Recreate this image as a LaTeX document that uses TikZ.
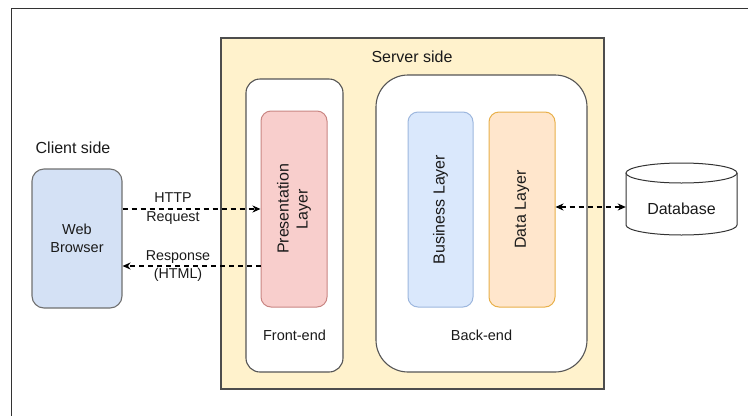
\documentclass[tikz,border=0pt]{standalone}
\usepackage{fontspec}
\setmainfont{Liberation Sans}
\usetikzlibrary{arrows.meta}
\definecolor{txt}{HTML}{1A1A1A}
\definecolor{frame}{HTML}{333333}
\definecolor{srvfill}{HTML}{FFF2CC}
\definecolor{srvdraw}{HTML}{4D4D4D}
\definecolor{contdraw}{HTML}{555555}
\definecolor{redfill}{HTML}{F8CECC}
\definecolor{reddraw}{HTML}{C98683}
\definecolor{bluefill}{HTML}{DAE8FC}
\definecolor{bluedraw}{HTML}{9DB7DE}
\definecolor{orgfill}{HTML}{FFE6CC}
\definecolor{orgdraw}{HTML}{E8B04A}
\definecolor{brwfill}{HTML}{D4E1F5}
\definecolor{brwdraw}{HTML}{707070}
\tikzset{
  bigfont/.style={font=\fontsize{16}{19}\selectfont},
  midfont/.style={font=\fontsize{14.5}{18}\selectfont},
  smallfont/.style={font=\fontsize{14.3}{18.5}\selectfont},
  layerbox/.style={draw, line width=1pt, rounded corners=10pt, inner sep=0pt, text=txt},
  contbox/.style={draw=contdraw, fill=white, line width=1.1pt, inner sep=0pt},
  lbl/.style={text=txt, inner sep=0pt, align=center},
  conn/.style={draw=black, line width=1.3pt, dash pattern=on 5pt off 4pt,
    -{Stealth[length=8pt,width=7pt,inset=2.5pt]}},
  conn2/.style={draw=black, line width=1.3pt, dash pattern=on 5pt off 4pt,
    {Stealth[length=8pt,width=7pt,inset=2.5pt]}-{Stealth[length=8pt,width=7pt,inset=2.5pt]}}
}
\begin{document}
\begin{tikzpicture}[x=1pt,y=-1pt]
\useasboundingbox (0,0) rectangle (748,416);
% outer frame (top and left edges visible)
\coordinate (fa) at (748,8);
\coordinate (fb) at (11,8);
\coordinate (fc) at (11,416);
\draw[frame, line width=1pt] (fa) -- (fb) -- (fc);

% server side
\node[draw=srvdraw, fill=srvfill, line width=1.1pt, inner sep=0pt,
      minimum width=383pt, minimum height=351pt] (server) at (412.5,213.5) {};
\node[lbl, bigfont] (serverlbl) at (412,57) {Server side};

% containers
\node[contbox, rounded corners=14pt, minimum width=97pt, minimum height=293pt] (frontend) at (294.5,225.5) {};
\node[contbox, rounded corners=32pt, minimum width=211pt, minimum height=297pt] (backend) at (481.5,223.5) {};
\node[lbl, midfont] (felbl) at (294.5,335) {Front-end};
\node[lbl, midfont] (belbl) at (481.5,335) {Back-end};

% layers
\node[layerbox, draw=reddraw, fill=redfill, minimum width=66pt, minimum height=196pt] (pres) at (294,209) {};
\node[lbl, bigfont, rotate=90] (preslbl) at (pres.center) {Presentation\\Layer};
\node[layerbox, draw=bluedraw, fill=bluefill, minimum width=65pt, minimum height=195pt] (bus) at (440.5,209.5) {};
\node[lbl, bigfont, rotate=90] (buslbl) at (bus.center) {Business Layer};
\node[layerbox, draw=orgdraw, fill=orgfill, minimum width=66pt, minimum height=195pt] (data) at (522,209.5) {};
\node[lbl, bigfont, rotate=90] (datalbl) at (data.center) {Data Layer};

% client
\node[lbl, bigfont] (clientlbl) at (73,148) {Client side};
\node[draw=brwdraw, fill=brwfill, line width=1.1pt, rounded corners=12pt, inner sep=0pt,
      minimum width=90pt, minimum height=139pt, lbl, midfont] (browser) at (77,238.5) {Web\\Browser};

% database cylinder
\draw[draw=frame, fill=white, line width=1pt]
  (626,173) -- (626,225) arc[start angle=180, end angle=360, x radius=55.5pt, y radius=10pt]
  -- (737,173);
\draw[draw=frame, fill=white, line width=1pt] (681.5,173) ellipse[x radius=55.5pt, y radius=10pt];
\node[minimum width=111pt, minimum height=72pt, inner sep=0pt] (db) at (681.5,199) {};
\node[lbl, bigfont] (dblbl) at (681.5,209) {Database};

% connectors
\draw[conn] (browser.east |- 0,209) -- (pres.west |- 0,209);
\draw[conn] (pres.west |- 0,266) -- (browser.east |- 0,266);
\draw[conn2] (data.east |- 0,207) -- (db.west |- 0,207);
\node[lbl, smallfont] (reqlbl) at (173,208.5) {HTTP\\Request};
\node[lbl, smallfont] (reslbl) at (178,266) {Response\\(HTML)};
\end{tikzpicture}
\end{document}
